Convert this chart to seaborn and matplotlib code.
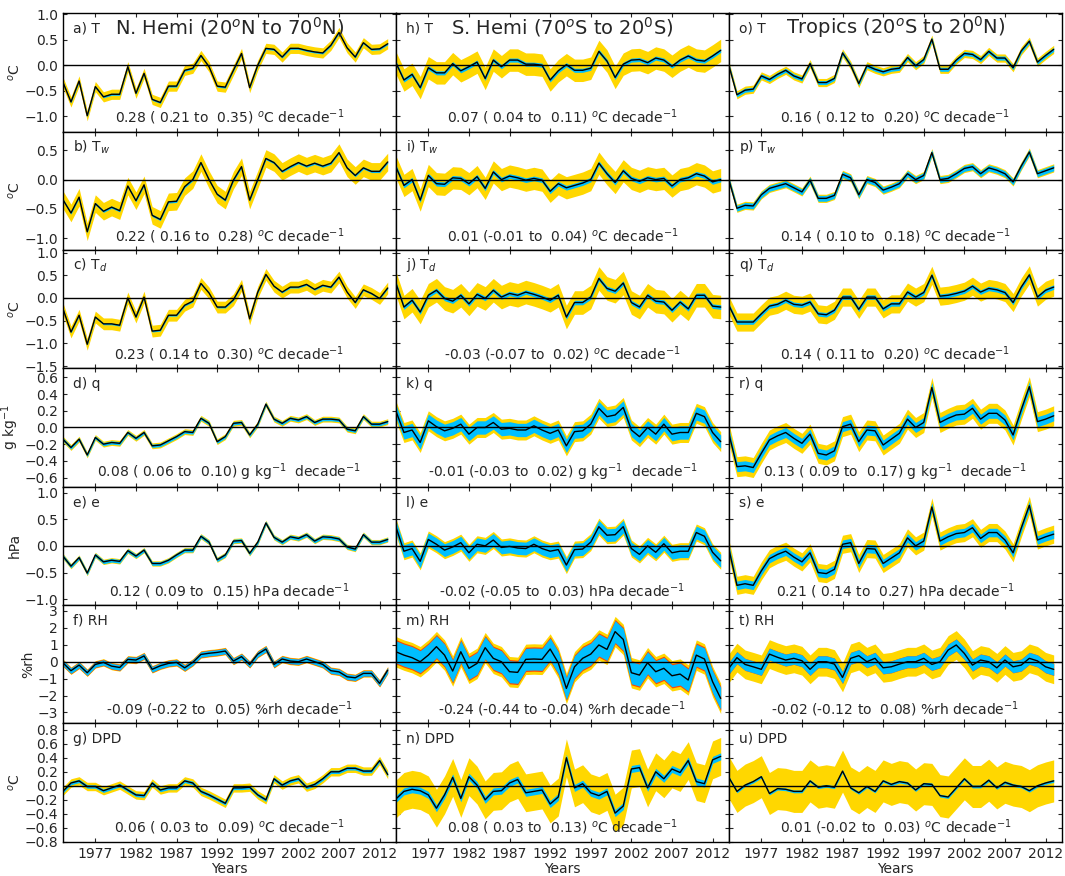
import numpy as np
import pandas as pd
import matplotlib
matplotlib.use('Agg')
import matplotlib.pyplot as plt
import seaborn as sns

years = list(range(1973, 2014))

# N. Hemi anomalies
nh_T = [-0.33, -0.72, -0.31, -0.99, -0.42, -0.62, -0.57, -0.57, -0.03, -0.55,
        -0.16, -0.67, -0.73, -0.41, -0.41, -0.10, -0.06, 0.19, -0.03, -0.41,
        -0.43, -0.10, 0.23, -0.44, 0.00, 0.33, 0.31, 0.16, 0.33, 0.33,
        0.29, 0.26, 0.24, 0.39, 0.64, 0.34, 0.16, 0.44, 0.31, 0.32, 0.42]
nh_Tw = [-0.34, -0.57, -0.30, -0.89, -0.41, -0.54, -0.47, -0.53, -0.11, -0.36,
         -0.09, -0.61, -0.68, -0.38, -0.37, -0.12, 0.00, 0.29, 0.00, -0.25,
         -0.35, -0.01, 0.22, -0.35, 0.00, 0.36, 0.29, 0.14, 0.22, 0.29,
         0.23, 0.28, 0.23, 0.28, 0.46, 0.20, 0.07, 0.20, 0.14, 0.14, 0.30]
nh_Td = [-0.23, -0.75, -0.38, -1.02, -0.42, -0.57, -0.57, -0.60, 0.00, -0.42,
         0.02, -0.73, -0.71, -0.38, -0.38, -0.16, -0.07, 0.32, 0.11, -0.20,
         -0.20, -0.04, 0.28, -0.46, 0.13, 0.52, 0.26, 0.13, 0.24, 0.24,
         0.30, 0.19, 0.28, 0.24, 0.46, 0.13, -0.10, 0.18, 0.10, -0.01, 0.22]
nh_q = [-0.14, -0.24, -0.14, -0.33, -0.12, -0.20, -0.18, -0.19, -0.06, -0.13,
        -0.06, -0.22, -0.21, -0.16, -0.11, -0.05, -0.06, 0.11, 0.05, -0.17,
        -0.11, 0.05, 0.06, -0.09, 0.04, 0.28, 0.10, 0.05, 0.11, 0.09,
        0.13, 0.06, 0.10, 0.10, 0.09, -0.02, -0.04, 0.13, 0.04, 0.04, 0.07]
nh_e = [-0.19, -0.38, -0.22, -0.51, -0.17, -0.30, -0.27, -0.29, -0.09, -0.19,
        -0.08, -0.33, -0.33, -0.27, -0.17, -0.08, -0.08, 0.18, 0.07, -0.26,
        -0.17, 0.09, 0.10, -0.14, 0.07, 0.43, 0.16, 0.07, 0.17, 0.14,
        0.21, 0.09, 0.17, 0.16, 0.13, -0.02, -0.06, 0.21, 0.07, 0.07, 0.12]
nh_RH = [-0.06, -0.53, -0.20, -0.65, -0.16, -0.04, -0.26, -0.34, 0.14, 0.10,
         0.34, -0.45, -0.24, -0.10, -0.04, -0.36, -0.04, 0.43, 0.50, 0.55,
         0.63, 0.04, 0.30, -0.16, 0.45, 0.75, -0.16, 0.16, 0.04, 0.00,
         0.16, 0.00, -0.16, -0.53, -0.60, -0.89, -0.95, -0.69, -0.69, -1.28, -0.50]
nh_DPD = [-0.08, 0.04, 0.07, -0.01, -0.01, -0.07, -0.03, 0.01, -0.06, -0.13,
          -0.14, 0.04, -0.06, -0.03, -0.03, 0.07, 0.04, -0.08, -0.13, -0.19,
          -0.25, -0.03, -0.03, -0.02, -0.13, -0.20, 0.10, 0.01, 0.07, 0.10,
          -0.02, 0.02, 0.10, 0.20, 0.20, 0.25, 0.25, 0.21, 0.21, 0.36, 0.16]

# S. Hemi
sh_T = [0.05, -0.29, -0.18, -0.44, -0.05, -0.15, -0.15, 0.03, -0.11, -0.03,
        0.06, -0.26, 0.10, -0.03, 0.10, 0.10, 0.02, 0.02, 0.00, -0.29,
        -0.11, 0.01, -0.10, -0.10, -0.06, 0.27, 0.08, -0.24, 0.02, 0.10,
        0.11, 0.05, 0.14, 0.10, -0.02, 0.10, 0.18, 0.10, 0.08, 0.18, 0.29]
sh_Tw = [0.22, -0.10, 0.00, -0.35, 0.07, -0.07, -0.08, 0.03, 0.02, -0.07,
         0.05, -0.15, 0.13, 0.00, 0.06, 0.03, -0.01, 0.02, -0.01, -0.20,
         -0.07, -0.14, -0.10, -0.06, 0.00, 0.28, 0.10, -0.05, 0.15, 0.02,
         -0.03, 0.03, 0.00, 0.02, -0.11, 0.00, 0.03, 0.10, 0.06, -0.04, 0.00]
sh_Td = [0.33, -0.20, -0.05, -0.31, 0.06, 0.17, -0.01, -0.07, 0.06, -0.13,
         0.08, -0.01, 0.17, 0.02, 0.10, 0.06, 0.13, 0.08, 0.02, -0.05,
         0.06, -0.42, -0.10, -0.10, 0.02, 0.43, 0.21, 0.15, 0.33, -0.10,
         -0.20, 0.06, -0.07, -0.09, -0.27, -0.09, -0.24, 0.06, 0.06, -0.18, -0.20]
sh_q = [0.20, -0.06, -0.03, -0.18, 0.08, 0.01, -0.04, -0.01, 0.04, -0.08,
        0.00, 0.00, 0.06, -0.02, -0.01, -0.03, -0.03, 0.02, -0.03, -0.07,
        -0.03, -0.22, -0.05, -0.04, 0.04, 0.23, 0.13, 0.15, 0.24, -0.03,
        -0.11, 0.00, -0.08, 0.04, -0.08, -0.06, -0.06, 0.17, 0.13, -0.06, -0.17]
sh_e = [0.36, -0.10, -0.05, -0.29, 0.12, 0.03, -0.08, -0.02, 0.06, -0.13,
        0.03, 0.00, 0.11, -0.03, -0.01, -0.04, -0.05, 0.03, -0.05, -0.10,
        -0.07, -0.36, -0.07, -0.06, 0.07, 0.36, 0.20, 0.21, 0.36, -0.05,
        -0.16, 0.00, -0.12, 0.04, -0.13, -0.10, -0.10, 0.25, 0.18, -0.12, -0.28]
sh_RH = [0.59, 0.39, 0.24, 0.00, 0.39, 0.89, 0.39, -0.55, 0.59, -0.39,
         -0.10, 0.83, 0.20, 0.00, -0.59, -0.63, 0.14, 0.16, 0.14, 0.75,
         -0.06, -1.58, -0.30, 0.20, 0.45, 0.99, 0.73, 1.78, 1.32, -0.65,
         -0.79, -0.06, -0.59, -0.39, -0.83, -0.73, -1.08, 0.39, 0.16, -1.18, -2.17]
sh_DPD = [-0.19, -0.08, -0.05, -0.07, -0.13, -0.32, -0.13, 0.12, -0.18, 0.13,
          0.01, -0.20, -0.08, -0.07, 0.04, 0.09, -0.10, -0.08, -0.06, -0.26,
          -0.16, 0.40, -0.03, 0.03, -0.10, -0.14, -0.08, -0.39, -0.29, 0.24,
          0.26, -0.03, 0.20, 0.10, 0.24, 0.19, 0.36, 0.06, 0.03, 0.37, 0.42]

# Tropics
tr_T = [0.00, -0.58, -0.49, -0.47, -0.21, -0.28, -0.18, -0.10, -0.21, -0.27,
        0.03, -0.34, -0.34, -0.26, 0.24, 0.00, -0.36, -0.01, -0.08, -0.13,
        -0.08, -0.06, 0.15, -0.01, 0.11, 0.51, -0.08, -0.08, 0.10, 0.23,
        0.21, 0.11, 0.27, 0.14, 0.14, -0.05, 0.28, 0.47, 0.06, 0.19, 0.31]
tr_Tw = [0.00, -0.49, -0.44, -0.45, -0.26, -0.15, -0.11, -0.07, -0.14, -0.21,
         -0.01, -0.32, -0.32, -0.27, 0.09, 0.03, -0.26, 0.00, -0.05, -0.18,
         -0.13, -0.07, 0.10, 0.00, 0.07, 0.46, 0.00, 0.02, 0.10, 0.19,
         0.22, 0.10, 0.20, 0.16, 0.10, -0.04, 0.23, 0.47, 0.10, 0.15, 0.20]
tr_Td = [-0.16, -0.53, -0.53, -0.53, -0.35, -0.18, -0.14, -0.05, -0.14, -0.16,
         -0.09, -0.35, -0.37, -0.27, 0.02, 0.02, -0.25, 0.02, 0.02, -0.24,
         -0.13, -0.13, 0.13, 0.02, 0.12, 0.50, 0.04, 0.06, 0.10, 0.15,
         0.26, 0.13, 0.21, 0.18, 0.12, -0.10, 0.24, 0.51, 0.02, 0.17, 0.24]
tr_q = [-0.07, -0.47, -0.46, -0.48, -0.31, -0.15, -0.10, -0.06, -0.13, -0.19,
        -0.08, -0.31, -0.33, -0.28, 0.01, 0.04, -0.17, -0.03, -0.04, -0.21,
        -0.14, -0.07, 0.10, 0.00, 0.06, 0.48, 0.06, 0.11, 0.15, 0.16,
        0.23, 0.10, 0.17, 0.17, 0.09, -0.09, 0.21, 0.49, 0.07, 0.10, 0.14]
tr_e = [-0.05, -0.74, -0.71, -0.74, -0.47, -0.24, -0.16, -0.10, -0.21, -0.30,
        -0.13, -0.50, -0.52, -0.44, 0.03, 0.06, -0.33, -0.05, -0.06, -0.33,
        -0.23, -0.13, 0.15, 0.00, 0.09, 0.73, 0.09, 0.17, 0.23, 0.25,
        0.34, 0.14, 0.25, 0.25, 0.11, -0.13, 0.33, 0.76, 0.11, 0.17, 0.22]
tr_RH = [-0.39, 0.24, -0.16, -0.30, -0.45, 0.45, 0.26, 0.10, 0.20, 0.06,
         -0.45, 0.00, 0.00, -0.14, -0.93, 0.20, 0.36, 0.00, 0.20, -0.36,
         -0.30, -0.14, 0.00, 0.00, 0.20, -0.16, 0.00, 0.69, 0.99, 0.49,
         -0.20, 0.10, 0.00, -0.36, 0.10, -0.30, -0.20, 0.20, 0.05, -0.30, -0.45]
tr_DPD = [0.12, -0.08, 0.01, 0.06, 0.13, -0.11, -0.04, -0.05, -0.08, -0.08,
          0.07, -0.02, 0.00, -0.02, 0.21, -0.03, -0.10, -0.01, -0.08, 0.07,
          0.02, 0.06, 0.04, -0.06, 0.03, 0.02, -0.14, -0.16, -0.03, 0.10,
          -0.01, -0.01, 0.08, -0.03, 0.05, 0.01, -0.01, -0.07, 0.00, 0.04, 0.07]

# half widths of the uncertainty bands, one per row (T, Tw, Td, q, e, RH, DPD)
nh_inner = [0.02, 0.02, 0.02, 0.02, 0.035, 0.16, 0.025]
nh_outer = [0.10, 0.15, 0.13, 0.035, 0.05, 0.22, 0.06]
sh_inner = [0.04, 0.04, 0.05, 0.08, 0.12, 0.65, 0.05]
sh_outer = [0.22, 0.19, 0.26, 0.12, 0.16, 0.90, 0.27]
tr_inner = [0.04, 0.05, 0.05, 0.06, 0.08, 0.35, 0.02]
tr_outer = [0.08, 0.07, 0.20, 0.12, 0.17, 0.85, 0.30]
# thin red band that shows round the blue one in the RH panels (NH, SH, Tropics)
rh_red = [0.19, 0.72, 0.36]

# decadal trends (best, low, high)
nh_trend = [(0.28, 0.21, 0.35), (0.22, 0.16, 0.28), (0.23, 0.14, 0.30), (0.08, 0.06, 0.10),
            (0.12, 0.09, 0.15), (-0.09, -0.22, 0.05), (0.06, 0.03, 0.09)]
sh_trend = [(0.07, 0.04, 0.11), (0.01, -0.01, 0.04), (-0.03, -0.07, 0.02), (-0.01, -0.03, 0.02),
            (-0.02, -0.05, 0.03), (-0.24, -0.44, -0.04), (0.08, 0.03, 0.13)]
tr_trend = [(0.16, 0.12, 0.20), (0.14, 0.10, 0.18), (0.14, 0.11, 0.20), (0.13, 0.09, 0.17),
            (0.21, 0.14, 0.27), (-0.02, -0.12, 0.08), (0.01, -0.02, 0.03)]

var_names = ['T', 'T$_w$', 'T$_d$', 'q', 'e', 'RH', 'DPD']
row_units = ['$^o$C', '$^o$C', '$^o$C', 'g kg$^{-1}$', 'hPa', '%rh', '$^o$C']
trend_units = ['$^o$C decade$^{-1}$', '$^o$C decade$^{-1}$', '$^o$C decade$^{-1}$',
               'g kg$^{-1}$  decade$^{-1}$', 'hPa decade$^{-1}$', '%rh decade$^{-1}$',
               '$^o$C decade$^{-1}$']
titles = ['N. Hemi (20$^o$N to 70$^0$N)', 'S. Hemi (70$^o$S to 20$^0$S)',
          'Tropics (20$^o$S to 20$^0$N)']
letters = 'abcdefghijklmnopqrstu'

row_ylims = [(-1.3, 1.02), (-1.2, 0.82), (-1.55, 1.06), (-0.71, 0.71),
             (-1.11, 1.11), (-3.65, 3.35), (-0.8, 0.89)]
row_yticks = [[-1.0, -0.5, 0.0, 0.5, 1.0], [-1.0, -0.5, 0.0, 0.5],
              [-1.5, -1.0, -0.5, 0.0, 0.5, 1.0], [-0.6, -0.4, -0.2, 0.0, 0.2, 0.4, 0.6],
              [-1.0, -0.5, 0.0, 0.5, 1.0], [-3, -2, -1, 0, 1, 2, 3],
              [-0.8, -0.6, -0.4, -0.2, 0.0, 0.2, 0.4, 0.6, 0.8]]
ylabel_x = [-0.122, -0.122, -0.122, -0.125, -0.122, -0.084, -0.12]

columns = [
    ([nh_T, nh_Tw, nh_Td, nh_q, nh_e, nh_RH, nh_DPD], nh_inner, nh_outer, nh_trend),
    ([sh_T, sh_Tw, sh_Td, sh_q, sh_e, sh_RH, sh_DPD], sh_inner, sh_outer, sh_trend),
    ([tr_T, tr_Tw, tr_Td, tr_q, tr_e, tr_RH, tr_DPD], tr_inner, tr_outer, tr_trend),
]

sns.set_style('ticks', {'xtick.direction': 'in', 'ytick.direction': 'in'})
plt.rcParams['font.family'] = ['DejaVu Sans']
plt.rcParams['mathtext.fontset'] = 'dejavusans'
plt.rcParams['axes.unicode_minus'] = True

fig, axes = plt.subplots(7, 3, figsize=(10.65, 8.76), dpi=100, sharex=True, sharey='row')
fig.subplots_adjust(left=0.059, right=0.997, top=0.985, bottom=0.039, hspace=0, wspace=0)

for c, (series, inner, outer, trends) in enumerate(columns):
    for r in range(7):
        ax = axes[r, c]
        df = pd.DataFrame({'year': years, 'value': series[r]})
        y = df['value'].to_numpy()
        ax.fill_between(df['year'], y - outer[r], y + outer[r], color='gold', lw=0)
        if r == 5:
            ax.fill_between(df['year'], y - rh_red[c], y + rh_red[c], color='orangered', lw=0)
        ax.fill_between(df['year'], y - inner[r], y + inner[r], color='deepskyblue', lw=0)
        ax.axhline(0, color='black', lw=1)
        sns.lineplot(data=df, x='year', y='value', color='black', lw=1.0, ax=ax)

        ax.set_xlim(1973, 2014)
        ax.set_ylim(*row_ylims[r])
        ax.set_yticks(row_yticks[r])
        ax.set_xticks(range(1977, 2013, 5))
        ax.tick_params(direction='in', top=True, right=True, length=3.2, width=0.8,
                       labelsize=10)
        for sp in ax.spines.values():
            sp.set_linewidth(1)
            sp.set_color('black')

        ax.text(0.03, 0.87, f'{letters[c * 7 + r]}) {var_names[r]}',
                transform=ax.transAxes, fontsize=10, va='center', ha='left')
        t, lo, hi = trends[r]
        ax.text(0.5, 0.12, f'{t:.2f} ({lo:5.2f} to {hi:5.2f}) {trend_units[r]}',
                transform=ax.transAxes, fontsize=10, va='center', ha='center')
        if r == 0:
            ax.text(0.5, 0.88, titles[c], transform=ax.transAxes, fontsize=14,
                    va='center', ha='center')

        if c == 0:
            ax.set_ylabel(row_units[r], fontsize=10)
            ax.yaxis.set_label_coords(ylabel_x[r], 0.5)
        else:
            ax.set_ylabel('')
        if r == 6:
            ax.set_xlabel('Years', fontsize=10)
            ax.xaxis.set_label_coords(0.5, -0.17)
        else:
            ax.set_xlabel('')

fig.savefig('out.png', dpi=100)
